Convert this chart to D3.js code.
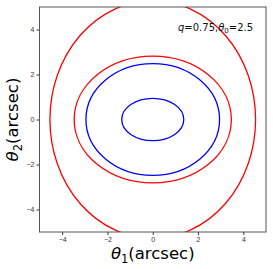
<!DOCTYPE html>
<html>
<head>
<meta charset="utf-8">
<script src="https://cdnjs.cloudflare.com/ajax/libs/d3/7.8.5/d3.min.js"></script>
<style>
  body, html { margin: 0; padding: 0; background: #fff; font-family: "DejaVu Sans", sans-serif; }
  .tick text { font-size: 7px; fill: #333; }
  .tick line { stroke: #333; }
  .domain { stroke: #555; }
</style>
</head>
<body>
<svg id="chart" width="273" height="269"></svg>
<script>
// curve semi-axes (arcsec)
var curveNames = ['critOuter', 'critInner', 'causticOuter', 'causticInner'];
var semiX = [4.54, 3.47, 2.95, 1.37];
var semiY = [5.28, 2.82, 2.48, 0.94];
var curveColors = ['red', 'red', 'blue', 'blue'];
var tickVals = [-4, -2, 0, 2, 4];

var svg = d3.select('#chart');
var pLeft = 39.5, pRight = 266, pTop = 7, pBottom = 232;

var x = d3.scaleLinear().domain([-5, 5]).range([pLeft, pRight]);
var y = d3.scaleLinear().domain([-5, 5]).range([pBottom, pTop]);

svg.append('clipPath').attr('id', 'clip')
    .append('rect')
    .attr('x', pLeft).attr('y', pTop)
    .attr('width', pRight - pLeft).attr('height', pBottom - pTop);

var g = svg.append('g').attr('clip-path', 'url(#clip)');
g.selectAll('ellipse')
    .data(curveNames)
    .enter()
    .append('ellipse')
    .attr('cx', x(0))
    .attr('cy', y(0))
    .attr('rx', function (d, i) { return x(semiX[i]) - x(0); })
    .attr('ry', function (d, i) { return y(0) - y(semiY[i]); })
    .attr('fill', 'none')
    .attr('stroke', function (d, i) { return curveColors[i]; })
    .attr('stroke-width', 1.3);

var fmt = function (d) { return d < 0 ? '\u2212' + (-d) : d; };
svg.append('g')
    .attr('transform', 'translate(0,' + pBottom + ')')
    .call(d3.axisBottom(x).tickValues(tickVals).tickSize(3).tickPadding(2).tickFormat(fmt));
svg.append('g')
    .attr('transform', 'translate(' + pLeft + ',0)')
    .call(d3.axisLeft(y).tickValues(tickVals).tickSize(3).tickPadding(2).tickFormat(fmt));

svg.selectAll('.domain').remove();
svg.append('rect')
    .attr('x', pLeft).attr('y', pTop)
    .attr('width', pRight - pLeft).attr('height', pBottom - pTop)
    .attr('fill', 'none').attr('stroke', '#555').attr('stroke-width', 1);

// annotation
var ann = svg.append('text')
    .attr('x', 178).attr('y', 31)
    .attr('font-size', 10)
    .attr('fill', '#111');
ann.append('tspan').attr('font-style', 'italic').text('q');
ann.append('tspan').text('=0.75,');
ann.append('tspan').attr('font-style', 'italic').text('\u03b8');
ann.append('tspan').attr('font-size', 7).attr('dy', 2).text('0');
ann.append('tspan').attr('dy', -2).text('=2.5');

// axis labels
var xl = svg.append('text')
    .attr('x', x(0)).attr('y', 259)
    .attr('text-anchor', 'middle')
    .attr('font-size', 16.5)
    .attr('fill', '#000');
xl.append('tspan').attr('font-style', 'italic').text('\u03b8');
xl.append('tspan').attr('font-size', 11.5).attr('dy', 4).text('1');
xl.append('tspan').attr('dy', -4).text('(arcsec)');

var yl = svg.append('text')
    .attr('transform', 'translate(18,' + y(0) + ') rotate(-90)')
    .attr('text-anchor', 'middle')
    .attr('font-size', 16.5)
    .attr('fill', '#000');
yl.append('tspan').attr('font-style', 'italic').text('\u03b8');
yl.append('tspan').attr('font-size', 11.5).attr('dy', 4).text('2');
yl.append('tspan').attr('dy', -4).text('(arcsec)');
</script>
</body>
</html>
